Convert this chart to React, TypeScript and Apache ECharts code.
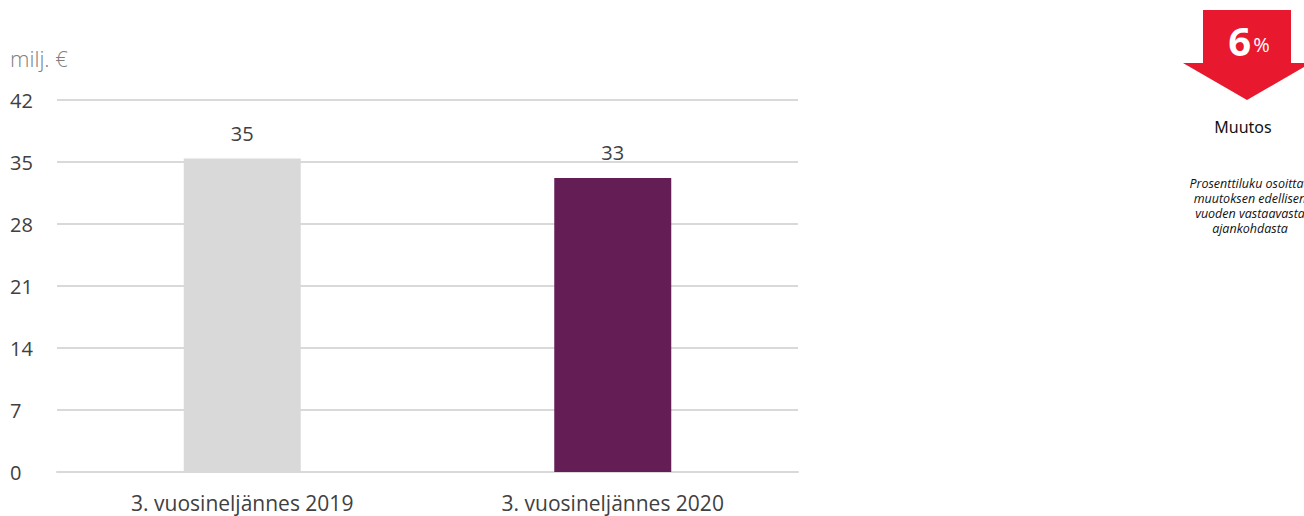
import React, { useEffect, useRef } from "react";
import * as echarts from "echarts";

const categories = ["3. vuosineljännes 2019", "3. vuosineljännes 2020"];
const values = [35.4, 33.2];
const barColors = ["#D9D9D9", "#641E55"];
const yTicks = [0, 7, 14, 21, 28, 35, 42];
const unitLabel = "milj. €";
const changePct = "6";
const changeTitle = "Muutos";
const noteLines = ["Prosenttiluku osoittaa", "muutoksen edellisen", "vuoden vastaavasta", "ajankohdasta"];

export default function App() {
  const ref = useRef<HTMLDivElement>(null);
  useEffect(() => {
    const chart = echarts.init(ref.current!, null, { renderer: "svg" });
    const font = "'Open Sans', sans-serif";
    const noteGraphics = noteLines.map((t, i) => ({
      type: "text",
      x: 1250,
      y: 183 + i * 15,
      style: { text: t, align: "center", verticalAlign: "middle", fill: "#111", fontSize: 12.5, lineHeight: 14, fontStyle: "italic", fontFamily: font },
    }));
    chart.setOption({
      animation: false,
      grid: { left: 57, right: 506, top: 100, bottom: 44 },
      xAxis: {
        type: "category",
        data: categories,
        axisLine: { lineStyle: { color: "#D9D9D9", width: 2 } },
        axisTick: { show: false },
        axisLabel: { color: "#404040", fontSize: 21, fontFamily: font, margin: 20 },
      },
      yAxis: {
        type: "value",
        min: yTicks[0],
        max: yTicks[yTicks.length - 1],
        interval: 7,
        axisLine: { show: false },
        axisTick: { show: false },
        splitLine: { lineStyle: { color: "#D9D9D9", width: 2 } },
        axisLabel: { color: "#404040", fontSize: 20, fontFamily: font, margin: 47, align: "left" },
      },
      series: [
        {
          type: "bar",
          barWidth: 117,
          data: values.map((v, i) => ({ value: v, itemStyle: { color: barColors[i] } })),
          label: {
            show: true,
            position: "top",
            distance: 15,
            color: "#404040",
            fontSize: 20,
            fontFamily: font,
            formatter: (p: any) => String(Math.round(p.value)),
          },
        },
      ],
      graphic: [
        { type: "text", x: 10, y: 58, style: { text: unitLabel, fill: "#808080", fontSize: 22, fontFamily: font, fontWeight: 300, verticalAlign: "middle" } },
        { type: "rect", shape: { x: 1203, y: 10, width: 88, height: 54 }, style: { fill: "#E8192F" } },
        { type: "polygon", shape: { points: [[1183, 63], [1311, 63], [1247, 100]] }, style: { fill: "#E8192F" } },
        {
          type: "text",
          x: 1249,
          y: 40,
          style: {
            text: "{a|" + changePct + "}{b|%}",
            align: "center",
            verticalAlign: "middle",
            rich: {
              a: { fill: "#fff", fontSize: 40, fontWeight: "bold", fontFamily: font },
              b: { fill: "#fff", fontSize: 20, fontFamily: font, padding: [8, 0, 0, 2] },
            },
          },
        },
        {
          type: "text",
          x: 1243,
          y: 127,
          style: { text: changeTitle, align: "center", verticalAlign: "middle", fill: "#111", fontSize: 16, fontFamily: "cursive, 'Noto Sans', sans-serif" },
        },
        ...noteGraphics,
      ],
    });
    return () => chart.dispose();
  }, []);
  return <div ref={ref} style={{ width: 1304, height: 516, position: "absolute", left: 0, top: 0 }} />;
}
